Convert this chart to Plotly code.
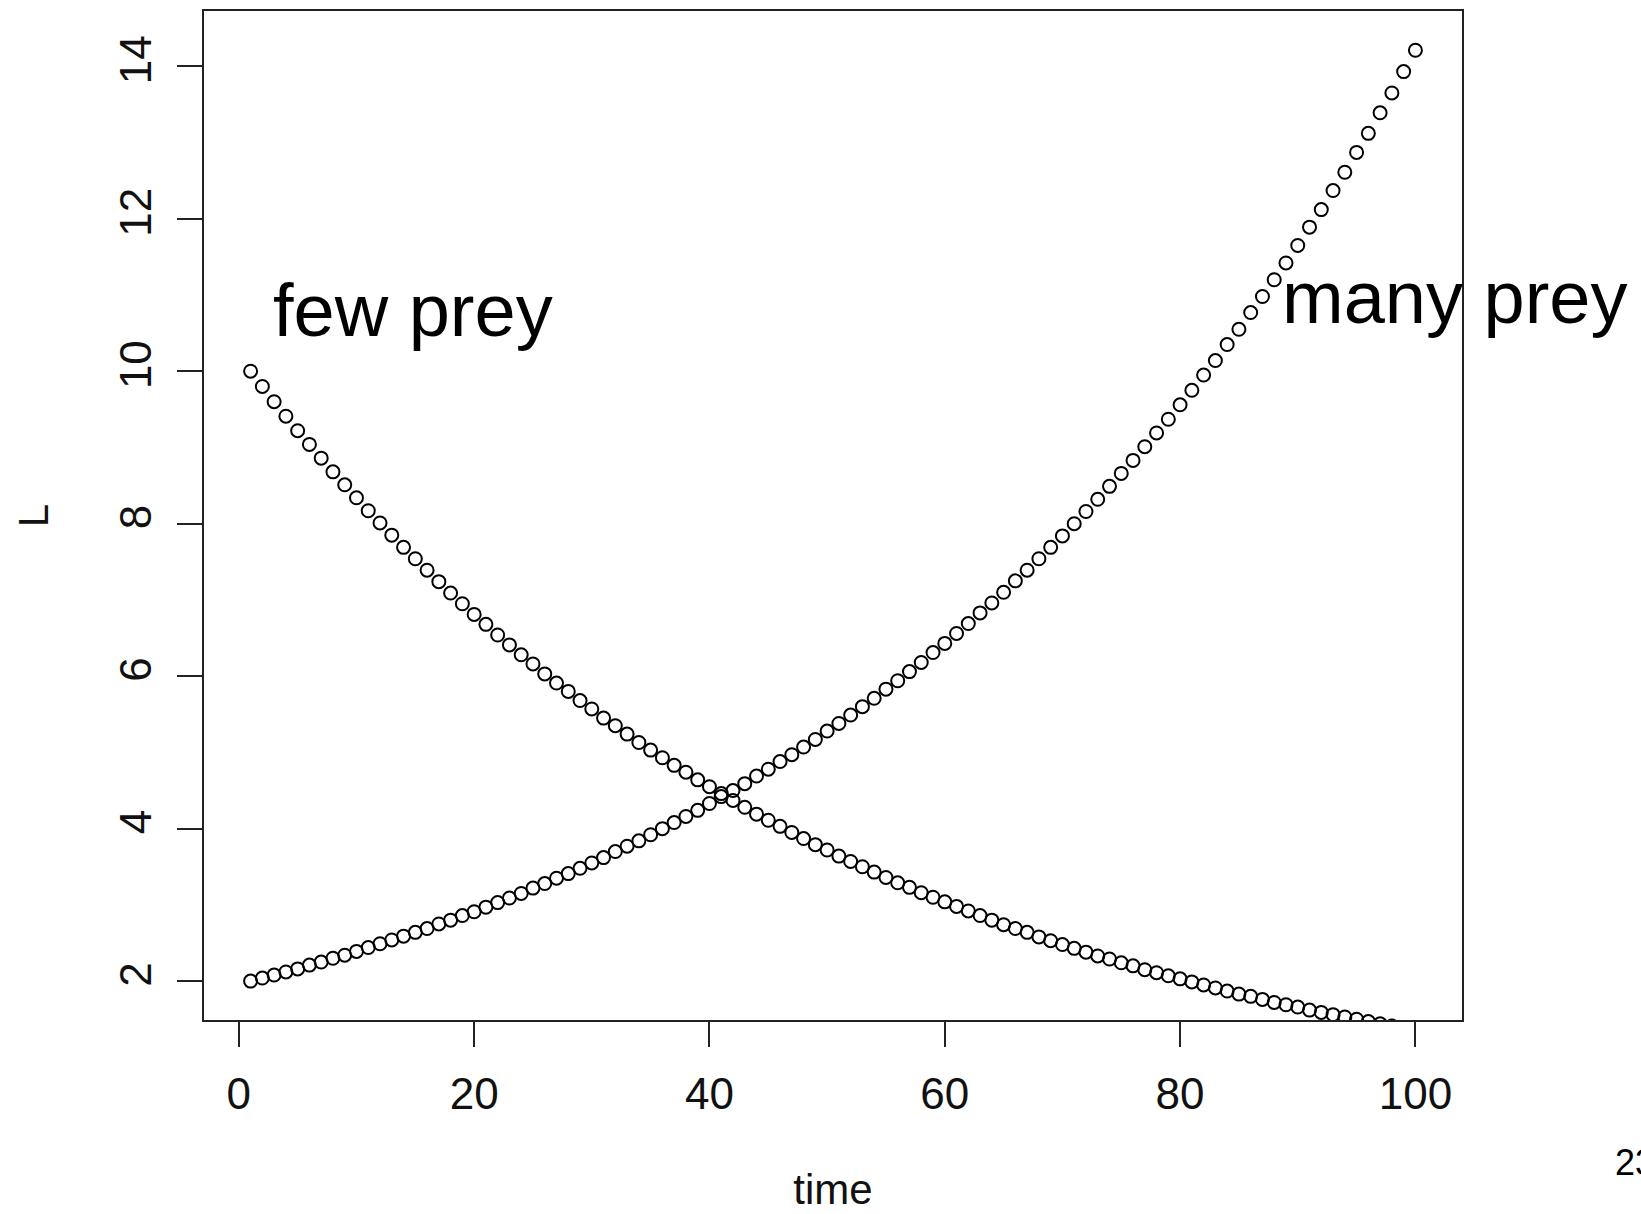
import plotly.graph_objects as go

# time steps
time = list(range(1, 101))

# L when prey is abundant (rising curve)
L_many = [
    2.00, 2.04, 2.08, 2.12, 2.16, 2.21, 2.25, 2.30, 2.34, 2.39,
    2.44, 2.49, 2.54, 2.59, 2.64, 2.69, 2.75, 2.80, 2.86, 2.91,
    2.97, 3.03, 3.09, 3.15, 3.22, 3.28, 3.35, 3.41, 3.48, 3.55,
    3.62, 3.70, 3.77, 3.84, 3.92, 4.00, 4.08, 4.16, 4.24, 4.33,
    4.42, 4.50, 4.59, 4.69, 4.78, 4.88, 4.97, 5.07, 5.17, 5.28,
    5.38, 5.49, 5.60, 5.71, 5.83, 5.94, 6.06, 6.18, 6.31, 6.43,
    6.56, 6.69, 6.83, 6.96, 7.10, 7.25, 7.39, 7.54, 7.69, 7.84,
    8.00, 8.16, 8.32, 8.49, 8.66, 8.83, 9.01, 9.19, 9.37, 9.56,
    9.75, 9.95, 10.14, 10.35, 10.55, 10.77, 10.98, 11.20, 11.42, 11.65,
    11.89, 12.12, 12.37, 12.61, 12.87, 13.12, 13.39, 13.65, 13.93, 14.21,
]

# L when prey is scarce (falling curve)
L_few = [
    10.00, 9.80, 9.60, 9.41, 9.22, 9.04, 8.86, 8.68, 8.51, 8.34,
    8.17, 8.01, 7.85, 7.69, 7.54, 7.39, 7.24, 7.09, 6.95, 6.81,
    6.68, 6.54, 6.41, 6.28, 6.16, 6.03, 5.91, 5.80, 5.68, 5.57,
    5.45, 5.35, 5.24, 5.13, 5.03, 4.93, 4.83, 4.74, 4.64, 4.55,
    4.46, 4.37, 4.28, 4.19, 4.11, 4.03, 3.95, 3.87, 3.79, 3.72,
    3.64, 3.57, 3.50, 3.43, 3.36, 3.29, 3.23, 3.16, 3.10, 3.04,
    2.98, 2.92, 2.86, 2.80, 2.74, 2.69, 2.64, 2.58, 2.53, 2.48,
    2.43, 2.38, 2.33, 2.29, 2.24, 2.20, 2.15, 2.11, 2.07, 2.03,
    1.99, 1.95, 1.91, 1.87, 1.83, 1.80, 1.76, 1.72, 1.69, 1.66,
    1.62, 1.59, 1.56, 1.53, 1.50, 1.47, 1.44, 1.41, 1.38, 1.35,
]

x_ticks = [0, 20, 40, 60, 80, 100]
y_ticks = [2, 4, 6, 8, 10, 12, 14]

FONT = "Liberation Sans, Arial, sans-serif"
INK = "#111111"

circle = dict(symbol="circle-open", size=13, color="black",
              line=dict(width=2, color="black"))

fig = go.Figure()
fig.add_trace(go.Scatter(x=time, y=L_many, mode="markers", marker=circle,
                         cliponaxis=True, showlegend=False))
fig.add_trace(go.Scatter(x=time, y=L_few, mode="markers", marker=circle,
                         cliponaxis=True, showlegend=False))

axis_common = dict(
    showgrid=False, zeroline=False,
    showline=True, mirror=True, linecolor="#222222", linewidth=2,
    ticks="outside", ticklen=25, tickwidth=2, tickcolor="#222222",
    tickfont=dict(family=FONT, size=44, color=INK),
)

fig.update_xaxes(
    range=[-2.96, 103.96], tickvals=x_ticks,
    ticktext=[str(v) for v in x_ticks],
    ticklabelstandoff=9,
    title=dict(text="time", font=dict(family=FONT, size=42, color=INK), standoff=58),
    **axis_common,
)
fig.update_yaxes(
    range=[1.49, 14.725], tickvals=y_ticks,
    ticktext=[str(v) for v in y_ticks], tickangle=-90,
    ticklabelstandoff=8,
    title=dict(text="L", font=dict(family=FONT, size=42, color=INK), standoff=50),
    **axis_common,
)

fig.add_annotation(x=14.8, y=10.8, text="few prey", showarrow=False,
                   xanchor="center", yanchor="middle",
                   font=dict(family=FONT, size=74, color="black"))
fig.add_annotation(x=103.3, y=10.97, text="many prey", showarrow=False,
                   xanchor="center", yanchor="middle",
                   font=dict(family=FONT, size=74, color="black"))
fig.add_annotation(x=1.120, y=-0.1408, xref="paper", yref="paper",
                   text="23", showarrow=False, xanchor="left", yanchor="middle",
                   font=dict(family=FONT, size=36, color="black"))

fig.update_layout(
    width=1641, height=1214,
    margin=dict(l=204, r=179, t=9, b=192),
    paper_bgcolor="white", plot_bgcolor="white",
)

fig.write_html("out.html")
